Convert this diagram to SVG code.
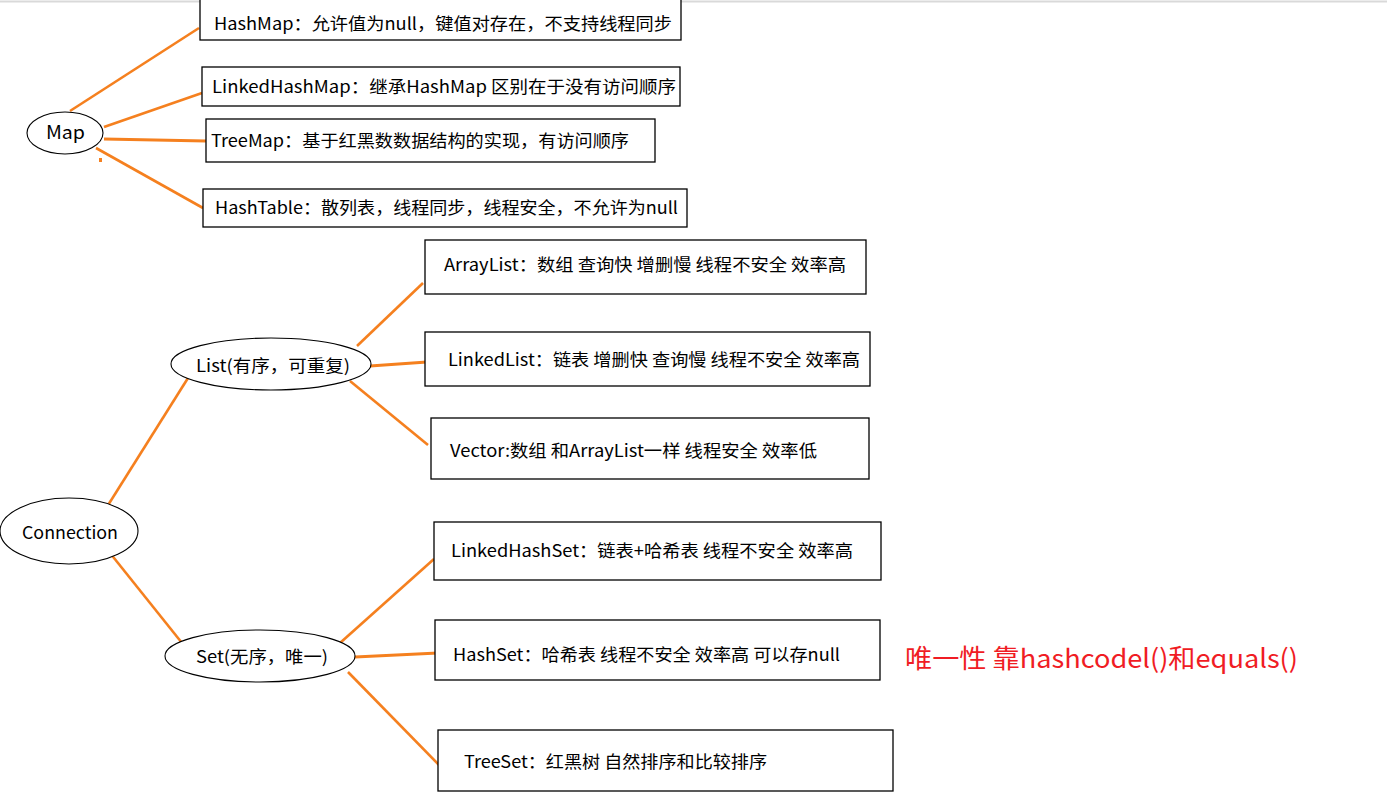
<svg xmlns="http://www.w3.org/2000/svg" width="1387" height="806" viewBox="0 0 1387 806">
<style>
.box{fill:#fff;stroke:#000;stroke-width:1.3}
.ell{fill:#fff;stroke:#000;stroke-width:1.1}
.t{font-family:"Noto Sans CJK SC","Microsoft YaHei",sans-serif;font-size:17px;fill:#000}
.c line{stroke:#f5801f;stroke-width:2.6;stroke-linecap:butt}
.red{font-family:"Noto Sans CJK SC",sans-serif;font-size:26px;fill:#f01c24}
</style>
<rect x="0" y="0" width="1387" height="806" fill="#fff"/>
<line x1="0" y1="1.5" x2="1387" y2="1.5" stroke="#d9d9d9" stroke-width="2"/>
<g class="c" id="connectors">
<line x1="70" y1="111" x2="199" y2="28"/>
<line x1="104" y1="127" x2="202" y2="93"/>
<line x1="104" y1="139" x2="206" y2="141" style="stroke-width:3.2"/>
<line x1="96" y1="148" x2="203" y2="208"/>
<rect x="99" y="158" width="3" height="4" fill="#f5801f"/>
<line x1="105" y1="510" x2="188" y2="378"/>
<line x1="110" y1="553" x2="182" y2="643"/>
<line x1="357" y1="346" x2="423" y2="283"/>
<line x1="370" y1="366" x2="427" y2="362" style="stroke-width:3"/>
<line x1="350" y1="381" x2="428" y2="445"/>
<line x1="340" y1="643" x2="434" y2="559"/>
<line x1="355" y1="657" x2="438" y2="653" style="stroke-width:3"/>
<line x1="348" y1="672" x2="440" y2="766"/>
</g>
<g id="map"><ellipse class="ell" cx="65" cy="133" rx="38" ry="21"/><text class="t" x="46" y="139" style="font-size:18px" textLength="39" lengthAdjust="spacingAndGlyphs">Map</text></g>
<g id="hashmap"><rect class="box" x="200" y="-2" width="481" height="42"/><text class="t" x="214" y="30" textLength="458" lengthAdjust="spacingAndGlyphs">HashMap：允许值为null，键值对存在，不支持线程同步</text></g>
<g id="linkedhashmap"><rect class="box" x="202" y="67" width="478" height="39"/><text class="t" x="212" y="93" textLength="464" lengthAdjust="spacingAndGlyphs">LinkedHashMap：继承HashMap 区别在于没有访问顺序</text></g>
<g id="treemap"><rect class="box" x="206" y="119" width="449" height="43"/><text class="t" x="211" y="147" textLength="418" lengthAdjust="spacingAndGlyphs">TreeMap：基于红黑数数据结构的实现，有访问顺序</text></g>
<g id="hashtable"><rect class="box" x="203" y="189" width="484" height="38"/><text class="t" x="215" y="214" textLength="463" lengthAdjust="spacingAndGlyphs">HashTable：散列表，线程同步，线程安全，不允许为null</text></g>
<g id="connection"><ellipse class="ell" cx="69" cy="531" rx="69" ry="33"/><text class="t" x="22" y="539" textLength="96" lengthAdjust="spacingAndGlyphs">Connection</text></g>
<g id="list"><ellipse class="ell" cx="271" cy="364" rx="100" ry="26"/><text class="t" x="196" y="372" textLength="154" lengthAdjust="spacingAndGlyphs">List(有序，可重复)</text></g>
<g id="set"><ellipse class="ell" cx="260" cy="656" rx="95" ry="26"/><text class="t" x="196" y="663" textLength="132" lengthAdjust="spacingAndGlyphs">Set(无序，唯一)</text></g>
<g id="arraylist"><rect class="box" x="425" y="240" width="441" height="54"/><text class="t" x="444" y="271" textLength="402" lengthAdjust="spacingAndGlyphs">ArrayList：数组 查询快 增删慢 线程不安全 效率高</text></g>
<g id="linkedlist"><rect class="box" x="425" y="332" width="445" height="54"/><text class="t" x="448" y="366" textLength="412" lengthAdjust="spacingAndGlyphs">LinkedList：链表 增删快 查询慢 线程不安全 效率高</text></g>
<g id="vector"><rect class="box" x="431" y="418" width="438" height="61"/><text class="t" x="450" y="457" textLength="367" lengthAdjust="spacingAndGlyphs">Vector:数组 和ArrayList一样 线程安全 效率低</text></g>
<g id="linkedhashset"><rect class="box" x="434" y="522" width="447" height="58"/><text class="t" x="451" y="557" textLength="402" lengthAdjust="spacingAndGlyphs">LinkedHashSet：链表+哈希表 线程不安全 效率高</text></g>
<g id="hashset"><rect class="box" x="435" y="620" width="445" height="60"/><text class="t" x="453" y="661" textLength="387" lengthAdjust="spacingAndGlyphs">HashSet：哈希表 线程不安全 效率高 可以存null</text></g>
<g id="treeset"><rect class="box" x="438" y="730" width="455" height="61"/><text class="t" x="464" y="768" textLength="303" lengthAdjust="spacingAndGlyphs">TreeSet：红黑树 自然排序和比较排序</text></g>
<g id="note"><text class="red" x="905" y="668" textLength="393" lengthAdjust="spacingAndGlyphs">唯一性 靠hashcodel()和equals()</text></g>
</svg>
